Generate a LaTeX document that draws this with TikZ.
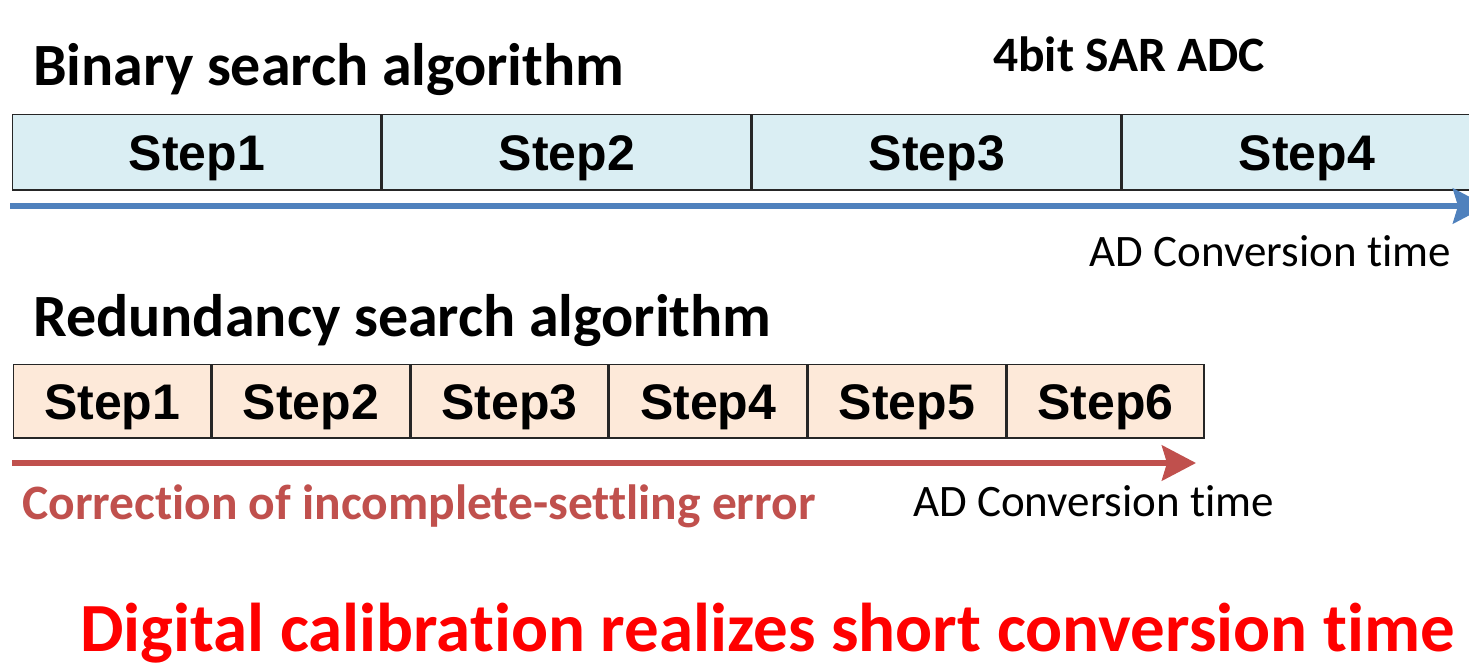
\documentclass[tikz,border=0pt]{standalone}
\usepackage{fontspec}
\setmainfont{Carlito}[Ligatures=NoCommon]
\newfontfamily\stepfont{Liberation Sans}
\usetikzlibrary{arrows.meta}

\definecolor{stepblue}{HTML}{DAEEF3}
\definecolor{steppeach}{HTML}{FDE9D9}
\definecolor{arrowblue}{HTML}{4F81BD}
\definecolor{arrowred}{HTML}{C0504D}
\definecolor{brightred}{HTML}{FF0000}

\begin{document}
\begin{tikzpicture}[x=1pt,y=-1pt,
  stepbox/.style={draw=black!85, line width=1.5pt, inner sep=0pt,
    font=\stepfont\bfseries\fontsize{50}{60}\selectfont,
    text height=36pt, text depth=0pt},
  bluebox/.style={stepbox, fill=stepblue, minimum width=368.5pt, minimum height=75.5pt},
  peachbox/.style={stepbox, fill=steppeach, minimum width=197.2pt, minimum height=73.5pt},
  heading/.style={inner sep=0pt, font=\bfseries\fontsize{60}{72}\selectfont},
  label/.style={inner sep=0pt, font=\fontsize{45}{54}\selectfont},
  timeline/.style={line width=6pt, -{Stealth[length=34pt, width=35pt, inset=5pt]}}
]
\clip (0,0) rectangle (1469,662);
\fill[white] (0,0) rectangle (1469,662);

% binary search: four equal steps
\node[heading, anchor=base west] (bintitle) at (33,85) {Binary search algorithm};
\node[inner sep=0pt, anchor=base west, font=\bfseries\fontsize{49.5}{58}\selectfont] (adc) at (993,71) {4bit SAR ADC};
\node[bluebox, anchor=north west] (b1) at (11.75,113.75) {Step1};
\node[bluebox, anchor=north west] (b2) at (b1.north east) {Step2};
\node[bluebox, anchor=north west] (b3) at (b2.north east) {Step3};
\node[bluebox, anchor=north west] (b4) at (b3.north east) {Step4};
\coordinate (bstart) at (10,206);
\coordinate (bend) at (1487,206);
\draw[timeline, arrowblue] (bstart) -- (bend);
\node[label, anchor=base east] (btime) at (1451,266) {AD Conversion time};

% redundancy search: six shorter steps
\node[heading, anchor=base west] (redtitle) at (33,336) {Redundancy search algorithm};
\node[peachbox, anchor=north west] (r1) at (12.75,363.75) {Step1};
\node[peachbox, anchor=north west] (r2) at (r1.north east) {Step2};
\node[peachbox, anchor=north west] (r3) at (r2.north east) {Step3};
\node[peachbox, anchor=north west] (r4) at (r3.north east) {Step4};
\node[peachbox, anchor=north west] (r5) at (r4.north east) {Step5};
\node[peachbox, anchor=north west] (r6) at (r5.north east) {Step6};
\coordinate (rstart) at (12,463);
\coordinate (rend) at (1196,463);
\draw[timeline, arrowred] (rstart) -- (rend);
\node[inner sep=0pt, anchor=base west, text=arrowred, font=\bfseries\fontsize{49.5}{58}\selectfont] (corr) at (22,519) {Correction of incomplete-settling error};
\node[label, anchor=base west] (rtime) at (913,516) {AD Conversion time};

% conclusion
\node[inner sep=0pt, anchor=base west, text=brightred, font=\bfseries\fontsize{69}{80}\selectfont] (concl) at (80,651) {Digital calibration realizes short conversion time};
\end{tikzpicture}
\end{document}
